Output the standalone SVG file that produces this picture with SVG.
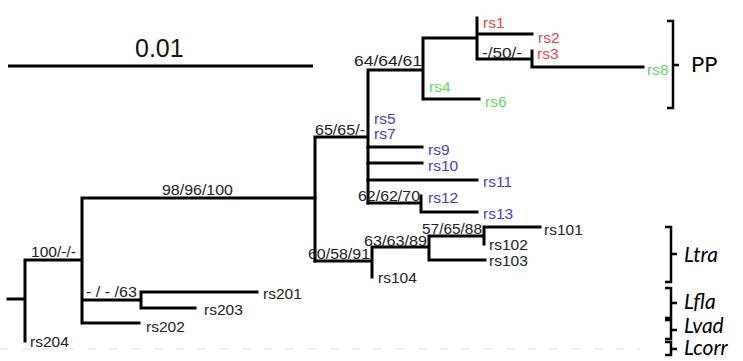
<svg xmlns="http://www.w3.org/2000/svg" width="743" height="361" viewBox="0 0 743 361">
<style>
.br{fill:none;stroke:#000;stroke-width:3;stroke-linecap:square}
.bk{fill:none;stroke:#000;stroke-width:2.5}
.t{font-family:"Liberation Sans",Arial,sans-serif;font-size:15.5px;fill:#222}
.s{font-family:"Liberation Sans",Arial,sans-serif;font-size:14.5px;fill:#222}
.r{fill:#df4646}
.g{fill:#5fd85f}
.b{fill:#4343b5}
.c{font-family:Lato,"Open Sans",sans-serif;font-style:italic;font-size:21px;fill:#000}
</style>
<rect width="743" height="361" fill="#fff"/>
<g id="scale">
<line x1="8" y1="66" x2="313" y2="66" stroke="#000" stroke-width="3"/>
<text x="135" y="57" font-family="Liberation Sans,Arial,sans-serif" font-size="25" fill="#111">0.01</text>
</g>
<line x1="0" y1="349" x2="640" y2="349" stroke="#e6e6e6" stroke-width="1.5" stroke-dasharray="8 14"/>
<g id="connectors" class="br">
<path d="M8,299H25M25,260V341M25,260H82M82,198V323M82,198H315M82,300H141M141,292V308M141,292H257M141,308H195M82,323H139"/>
<path d="M315,137V261M315,137H368M368,70V203M368,70H423M423,38V99M423,38H477M477,18V59M477,34H532M477,59H532M532,51V67M532,67H643M423,99H479"/>
<path d="M368,147H422M368,163H422M368,180H477M368,203H421M421,196V212M421,212H477"/>
<path d="M315,261H372M372,247V277M372,247H429M429,236V260M429,260H485M429,236H484M484,227V244M484,227H540"/>
</g>
<g id="supports" class="s">
<text x="162" y="195" textLength="71" lengthAdjust="spacingAndGlyphs">98/96/100</text>
<text x="31" y="257" textLength="45" lengthAdjust="spacingAndGlyphs">100/-/-</text>
<text x="86" y="297" textLength="51" lengthAdjust="spacingAndGlyphs">- / - /63</text>
<text x="308" y="259" textLength="62" lengthAdjust="spacingAndGlyphs">60/58/91</text>
<text x="364" y="246" textLength="63" lengthAdjust="spacingAndGlyphs">63/63/89</text>
<text x="422" y="234" textLength="60" lengthAdjust="spacingAndGlyphs">57/65/88</text>
<text x="358" y="201" textLength="62" lengthAdjust="spacingAndGlyphs">62/62/70</text>
<text x="315" y="135" textLength="50" lengthAdjust="spacingAndGlyphs">65/65/-</text>
<text x="354" y="66" textLength="68" lengthAdjust="spacingAndGlyphs">64/64/61</text>
<text x="482" y="58" textLength="40" lengthAdjust="spacingAndGlyphs">-/50/-</text>
</g>
<g id="rs1"><text class="t r" x="483" y="28">rs1</text></g>
<g id="rs2"><text class="t r" x="538" y="43">rs2</text></g>
<g id="rs3"><text class="t r" x="537" y="59">rs3</text></g>
<g id="rs8"><text class="t g" x="647" y="75">rs8</text></g>
<g id="rs4"><text class="t g" x="429" y="92">rs4</text></g>
<g id="rs6"><text class="t g" x="485" y="107">rs6</text></g>
<g id="rs5"><text class="t b" x="374" y="124">rs5</text></g>
<g id="rs7"><text class="t b" x="374" y="139">rs7</text></g>
<g id="rs9"><text class="t b" x="428" y="155">rs9</text></g>
<g id="rs10"><text class="t b" x="428" y="171">rs10</text></g>
<g id="rs11"><text class="t b" x="483" y="187">rs11</text></g>
<g id="rs12"><text class="t b" x="428" y="203">rs12</text></g>
<g id="rs13"><text class="t b" x="483" y="219">rs13</text></g>
<g id="rs101"><text class="t" x="544" y="235">rs101</text></g>
<g id="rs102"><text class="t" x="489" y="250">rs102</text></g>
<g id="rs103"><text class="t" x="489" y="266">rs103</text></g>
<g id="rs104"><text class="t" x="378" y="283">rs104</text></g>
<g id="rs201"><text class="t" x="263" y="299">rs201</text></g>
<g id="rs203"><text class="t" x="204" y="315">rs203</text></g>
<g id="rs202"><text class="t" x="146" y="332">rs202</text></g>
<g id="rs204"><text class="t" x="30" y="347">rs204</text></g>
<g id="PP">
<path class="bk" d="M667,21H673V108H667M673,65H679"/>
<text x="691" y="72" font-family="Lato,'Open Sans',sans-serif" font-size="22" fill="#000">PP</text>
</g>
<g id="Ltra">
<path class="bk" d="M665,227H671V282H665M671,254H677"/>
<text class="c" x="684" y="262">Ltra</text>
</g>
<g id="Lfla">
<path class="bk" d="M665,288H671V318H665M671,303H677"/>
<text class="c" x="684" y="309">Lfla</text>
</g>
<g id="Lvad">
<path class="bk" d="M665,320H671V339H665M671,330H677"/>
<text class="c" x="684" y="333">Lvad</text>
</g>
<g id="Lcorr">
<path class="bk" d="M665,342H671V355H665M671,349H677"/>
<text class="c" x="684" y="355">Lcorr</text>
</g>
</svg>
